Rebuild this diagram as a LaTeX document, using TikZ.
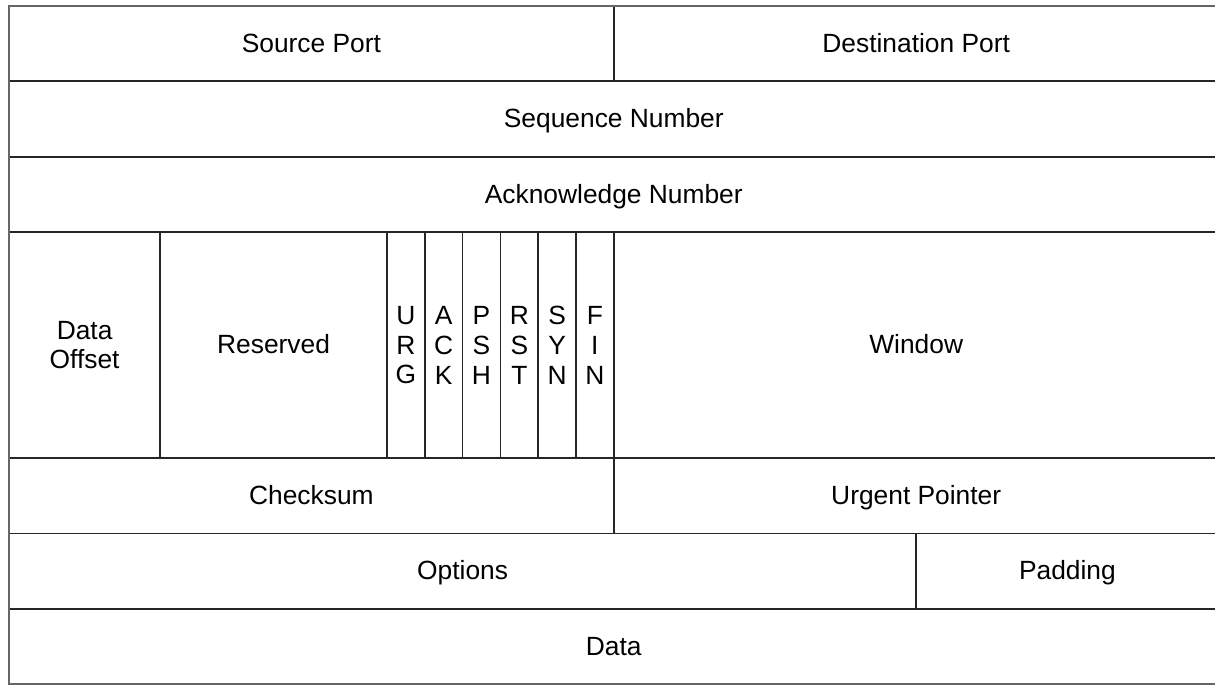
\documentclass[tikz,border=0pt]{standalone}
\usepackage{fontspec}
\setmainfont{Liberation Sans}
\usepackage{tikz}
\tikzset{
  field/.style={draw=black!85, line width=1pt, inner sep=0pt, outer sep=0pt,
    anchor=north west, align=center, font=\fontsize{15}{17}\selectfont},
  word/.style={field, text height=1em, text depth=0pt},
  frame/.style={draw=black!60, line width=1.4pt},
}
% one bit is \bw wide, one 32-bit word is \rh high
\def\bw{0.756}
\def\rh{1.507}

\begin{document}
\begin{tikzpicture}
\useasboundingbox (-0.18,0.12) rectangle (24.12,-13.6);
\clip (-0.18,0.12) rectangle (24.12,-13.6);
% ports
\node[word, minimum width=16*\bw cm, minimum height=\rh cm] (srcport) at (0,0) {Source Port};
\node[word, minimum width=16*\bw cm, minimum height=\rh cm] (dstport) at (16*\bw,0) {Destination Port};
% sequence and acknowledge
\node[word, minimum width=32*\bw cm, minimum height=\rh cm] (seqnum) at (0,-\rh) {Sequence Number};
\node[word, minimum width=32*\bw cm, minimum height=\rh cm] (acknum) at (0,-2*\rh) {Acknowledge Number};
% offset, reserved, flags, window
\node[field, minimum width=4*\bw cm, minimum height=3*\rh cm] (offset) at (0,-3*\rh) {Data\\Offset};
\node[word, minimum width=6*\bw cm, minimum height=3*\rh cm] (reserved) at (4*\bw,-3*\rh) {Reserved};
\node[field, minimum width=\bw cm, minimum height=3*\rh cm] (urg) at (10*\bw,-3*\rh) {U\\R\\G};
\node[field, minimum width=\bw cm, minimum height=3*\rh cm] (ack) at (11*\bw,-3*\rh) {A\\C\\K};
\node[field, minimum width=\bw cm, minimum height=3*\rh cm] (psh) at (12*\bw,-3*\rh) {P\\S\\H};
\node[field, minimum width=\bw cm, minimum height=3*\rh cm] (rst) at (13*\bw,-3*\rh) {R\\S\\T};
\node[field, minimum width=\bw cm, minimum height=3*\rh cm] (syn) at (14*\bw,-3*\rh) {S\\Y\\N};
\node[field, minimum width=\bw cm, minimum height=3*\rh cm] (fin) at (15*\bw,-3*\rh) {F\\I\\N};
\node[word, minimum width=16*\bw cm, minimum height=3*\rh cm] (window) at (16*\bw,-3*\rh) {Window};
% checksum and urgent pointer
\node[word, minimum width=16*\bw cm, minimum height=\rh cm] (checksum) at (0,-6*\rh) {Checksum};
\node[word, minimum width=16*\bw cm, minimum height=\rh cm] (urgptr) at (16*\bw,-6*\rh) {Urgent Pointer};
% options, padding, data
\node[word, minimum width=24*\bw cm, minimum height=\rh cm] (options) at (0,-7*\rh) {Options};
\node[word, minimum width=8*\bw cm, minimum height=\rh cm] (padding) at (24*\bw,-7*\rh) {Padding};
\node[word, minimum width=32*\bw cm, minimum height=\rh cm] (data) at (0,-8*\rh) {Data};
% outer frame
\draw[frame] (srcport.north west) rectangle (data.south east);
\end{tikzpicture}
\end{document}
